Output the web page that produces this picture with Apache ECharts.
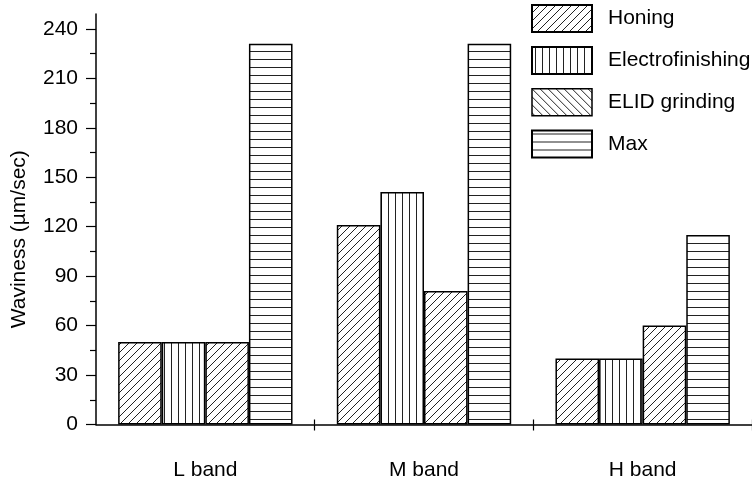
<!DOCTYPE html>
<html>
<head>
<meta charset="utf-8">
<script src="https://cdn.jsdelivr.net/npm/echarts@6/dist/echarts.min.js"></script>
<style>html,body{margin:0;padding:0;background:#fff;}#c{width:752px;height:482px;}</style>
</head>
<body>
<div id="c"></div>
<script>
var categories = ['L band', 'M band', 'H band'];
var seriesNames = ['Honing', 'Electrofinishing', 'ELID grinding', 'Max'];
var honing = [50, 121, 40];
var electrofinishing = [50, 141, 40];
var elidGrinding = [50, 81, 60];
var maxValues = [231, 231, 115];
var yTicks = [0, 30, 60, 90, 120, 150, 180, 210, 240];
var yMinorTicks = [15, 45, 75, 105, 135, 165, 195, 225];

function makePattern(type) {
  var s = type === 'vertical' ? 7 : 8;
  var c = document.createElement('canvas');
  c.width = s; c.height = s;
  var g = c.getContext('2d');
  g.fillStyle = '#fff';
  g.fillRect(0, 0, s, s);
  g.strokeStyle = '#222';
  g.lineWidth = 1;
  g.beginPath();
  if (type === 'fwd') {
    g.moveTo(-1, s + 1); g.lineTo(s + 1, -1);
    g.moveTo(-1, 1); g.lineTo(1, -1);
    g.moveTo(s - 1, s + 1); g.lineTo(s + 1, s - 1);
  } else if (type === 'back') {
    g.moveTo(-1, -1); g.lineTo(s + 1, s + 1);
    g.moveTo(s - 1, -1); g.lineTo(s + 1, 1);
    g.moveTo(-1, s - 1); g.lineTo(1, s + 1);
  } else if (type === 'vertical') {
    g.moveTo(3.5, 0); g.lineTo(3.5, s);
  } else {
    g.moveTo(0, 3.5); g.lineTo(s, 3.5);
  }
  g.stroke();
  return { image: c, repeat: 'repeat' };
}

var pFwd = makePattern('fwd');
var pBack = makePattern('back');
var pVert = makePattern('vertical');
var pHor = makePattern('horizontal');

var font = 'Liberation Sans, Arial, Helvetica, sans-serif';
var fs = 21;

function mkSeries(name, data, pattern) {
  return {
    name: name, type: 'bar', data: data, xAxisIndex: 0, yAxisIndex: 0,
    barWidth: 43.6, barGap: '0%',
    itemStyle: { color: pattern, borderColor: '#000', borderWidth: 1.5 },
    emphasis: { disabled: true }
  };
}

var chart = echarts.init(document.getElementById('c'), null, { renderer: 'canvas' });
chart.setOption({
  animation: false,
  backgroundColor: '#fff',
  grid: { left: 96, top: 14, width: 661.5, height: 410.5, containLabel: false },
  legend: {
    orient: 'vertical', left: 531, top: 4, padding: 0,
    itemWidth: 60, itemHeight: 27, itemGap: 13, icon: 'rect',
    textStyle: { fontSize: fs, color: '#000', fontFamily: font, padding: [0, 0, 0, 11] },
    selectedMode: false,
    data: [
      { name: seriesNames[0] },
      { name: seriesNames[1] },
      { name: seriesNames[2], itemStyle: { color: pBack, borderColor: '#000', borderWidth: 1.5 } },
      { name: seriesNames[3] }
    ]
  },
  xAxis: [{
    type: 'category', data: categories, position: 'bottom',
    axisLine: { show: true, lineStyle: { color: '#000', width: 1.5 } },
    axisTick: { show: true, length: 6, lineStyle: { color: '#000', width: 1.2 },
      interval: function (i) { return i === 1 || i === 2; } },
    axisLabel: { margin: 35, fontSize: fs, color: '#000', fontFamily: font },
    splitLine: { show: false }
  }, {
    type: 'category', data: categories, position: 'bottom', offset: 0,
    axisLine: { show: false },
    axisTick: { show: true, inside: true, length: 5, lineStyle: { color: '#000', width: 1.2 },
      interval: function (i) { return i === 1 || i === 2; } },
    axisLabel: { show: false },
    splitLine: { show: false }
  }],
  yAxis: [{
    type: 'value', min: 0, max: 249, position: 'left',
    name: 'Waviness (µm/sec)', nameLocation: 'middle', nameGap: 66,
    nameTextStyle: { fontSize: fs, color: '#000', fontFamily: font, padding: [0, 40, 0, 0] },
    axisLine: { show: true, lineStyle: { color: '#000', width: 1.5 } },
    axisTick: { show: true, length: 10, customValues: yTicks, lineStyle: { color: '#000', width: 1.2 } },
    axisLabel: { customValues: yTicks, margin: 18, fontSize: fs, color: '#000', fontFamily: font },
    splitLine: { show: false }
  }, {
    type: 'value', min: 0, max: 249, position: 'left', offset: 0,
    axisLine: { show: false },
    axisTick: { show: true, length: 6, customValues: yMinorTicks, lineStyle: { color: '#000', width: 1.2 } },
    axisLabel: { show: false },
    splitLine: { show: false }
  }],
  series: [
    mkSeries(seriesNames[0], honing, pFwd),
    mkSeries(seriesNames[1], electrofinishing, pVert),
    mkSeries(seriesNames[2], elidGrinding, pFwd),
    mkSeries(seriesNames[3], maxValues, pHor)
  ]
});
</script>
</body>
</html>
